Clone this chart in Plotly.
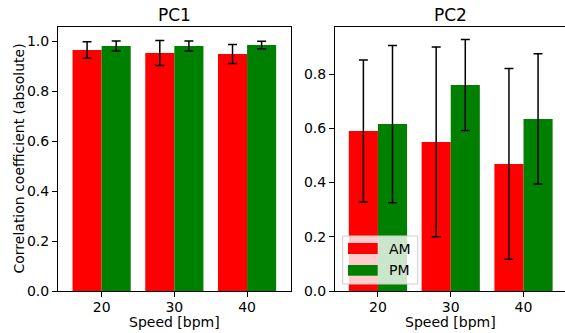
import plotly.graph_objects as go
from plotly.subplots import make_subplots

speeds = [20, 30, 40]
pc1_am = [0.964, 0.952, 0.948]
pc1_am_err = [0.033, 0.050, 0.038]
pc1_pm = [0.980, 0.980, 0.984]
pc1_pm_err = [0.020, 0.020, 0.015]
pc2_am = [0.590, 0.550, 0.469]
pc2_am_err = [0.262, 0.350, 0.352]
pc2_pm = [0.616, 0.760, 0.635]
pc2_pm_err = [0.290, 0.168, 0.240]
series_names = ["AM", "PM"]
colors = ["#ff0000", "#008000"]
x_title = "Speed [bpm]"
y_title = "Correlation coefficient (absolute)"
panel_titles = ["PC1", "PC2"]

W, H = 565, 333
L, R, T, B = 58, 0, 27, 42
pw, ph = W - L - R, H - T - B

def px_x(p):
    return (p - L) / pw

def px_y(p):
    return (H - B - p) / ph

fig = make_subplots(rows=1, cols=2, horizontal_spacing=0.0)
font = dict(family="DejaVu Sans", size=14, color="black")

panels = [
    (1, pc1_am, pc1_am_err, pc1_pm, pc1_pm_err),
    (2, pc2_am, pc2_am_err, pc2_pm, pc2_pm_err),
]
for col, am, ame, pm, pme in panels:
    for name, vals, errs, c in [(series_names[0], am, ame, colors[0]),
                                (series_names[1], pm, pme, colors[1])]:
        fig.add_trace(go.Bar(
            x=speeds, y=vals, name=name, marker=dict(color=c, line=dict(width=0)),
            error_y=dict(type="data", array=errs, visible=True, color="black",
                         thickness=1.5, width=4.5),
            showlegend=False), row=1, col=col)

fig.update_layout(
    width=W, height=H, margin=dict(l=L, r=R, t=T, b=B),
    plot_bgcolor="white", paper_bgcolor="white",
    barmode="group", bargap=0.2, bargroupgap=0.0,
    font=font, showlegend=False,
)

axis_common = dict(showgrid=False, zeroline=False, showline=True, linecolor="black",
                   linewidth=1, ticks="outside", ticklen=5, tickwidth=1, tickcolor="black",
                   tickfont=font)
fig.update_xaxes(axis_common, tickvals=speeds, ticktext=[str(s) for s in speeds],
                 ticklabelstandoff=-2)
fig.update_xaxes(domain=[0, px_x(290.7)], range=[14.0, 46.0], mirror=True, row=1, col=1)
fig.update_xaxes(domain=[px_x(335), 1.0], range=[14.1, 45.7], mirror=True, row=1, col=2)
fig.update_yaxes(axis_common, tickformat=".1f")
fig.update_yaxes(range=[0, 1.056], dtick=0.2, mirror=True, row=1, col=1)
fig.update_yaxes(range=[0, 0.974], dtick=0.2, mirror=False, row=1, col=2)

# panel titles and x-axis titles
for txt, cx in [(panel_titles[0], 174.3), (panel_titles[1], 450)]:
    fig.add_annotation(text=txt, x=px_x(cx), y=1, xref="paper", yref="paper",
                       xanchor="center", yanchor="bottom", showarrow=False, yshift=0,
                       font=dict(family="DejaVu Sans", size=17, color="black"))
for cx in [174.3, 450.5]:
    fig.add_annotation(text=x_title, x=px_x(cx), y=px_y(322), xref="paper", yref="paper",
                       xanchor="center", yanchor="middle", showarrow=False, borderpad=0,
                       font=font)
fig.add_annotation(text=y_title, x=px_x(18.5), y=px_y(159), xref="paper", yref="paper",
                   xanchor="center", yanchor="middle", textangle=-90, showarrow=False,
                   borderpad=0, font=font)

# legend (custom, matplotlib-style)
fig.add_shape(type="rect", xref="paper", yref="paper",
              x0=px_x(342.7), x1=px_x(417.7), y0=px_y(284), y1=px_y(236),
              line=dict(color="#cccccc", width=1), fillcolor="rgba(255,255,255,0.8)",
              layer="above")
for name, c, y0, y1 in [(series_names[0], colors[0], 243, 254), (series_names[1], colors[1], 265, 275.7)]:
    fig.add_shape(type="rect", xref="paper", yref="paper",
                  x0=px_x(348), x1=px_x(377.7), y0=px_y(y1), y1=px_y(y0),
                  line=dict(width=0), fillcolor=c, layer="above")
    fig.add_annotation(text=name, x=px_x(388), y=px_y((y0 + y1) / 2), xref="paper", yref="paper",
                       xanchor="left", yanchor="middle", showarrow=False, borderpad=0, font=font)

fig.write_html("out.html")
